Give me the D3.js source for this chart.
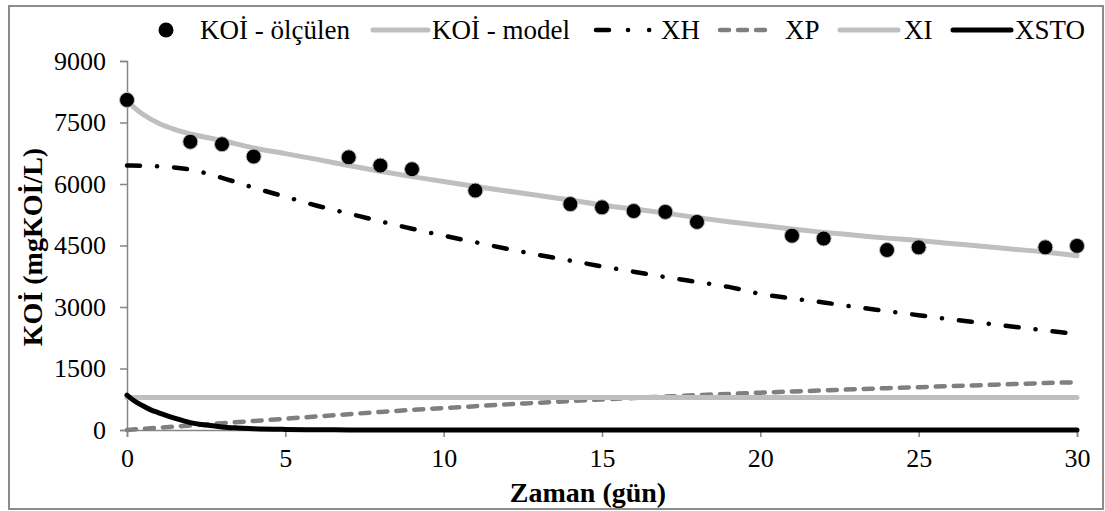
<!DOCTYPE html>
<html>
<head>
<meta charset="utf-8">
<script src="https://cdn.jsdelivr.net/npm/d3@7"></script>
</head>
<body style="margin:0">
<script>
// measured COD points (day, mg/L)
var measDays = [0, 2, 3, 4, 7, 8, 9, 11, 14, 15, 16, 17, 18, 21, 22, 24, 25, 29, 30]
var measVals = [8050, 7030, 6970, 6670, 6650, 6450, 6360, 5840, 5510, 5430, 5340, 5320, 5075, 4740, 4670, 4390, 4455, 4455, 4490]

// model curves
var modelDays = [0, 0.25, 0.5, 1, 1.5, 2, 3, 4, 5, 6, 7, 8, 9, 10, 11, 12, 13, 14, 15, 16, 17, 18, 19, 20, 21, 22, 23, 24, 25, 26, 27, 28, 29, 30]
var modelVals = [8050, 7850, 7700, 7480, 7330, 7220, 7060, 6880, 6740, 6600, 6450, 6310, 6180, 6060, 5940, 5830, 5720, 5610, 5490, 5390, 5290, 5180, 5080, 4990, 4900, 4820, 4750, 4680, 4620, 4550, 4480, 4410, 4340, 4250]

var xhDays = [0, 1, 2, 3, 4, 5, 6, 7, 8, 9, 10, 11, 12, 13, 14, 15, 16, 17, 18, 19, 20, 21, 22, 23, 24, 25, 26, 27, 28, 29, 30]
var xhVals = [6450, 6430, 6350, 6150, 5910, 5690, 5470, 5280, 5090, 4910, 4740, 4580, 4420, 4270, 4130, 3990, 3860, 3730, 3610, 3490, 3320, 3210, 3110, 3000, 2900, 2800, 2700, 2610, 2520, 2430, 2340]

var xpDays = [0, 1, 2, 3, 4, 5, 6, 7, 8, 9, 10, 11, 12, 13, 14, 15, 16, 17, 18, 19, 20, 21, 22, 23, 24, 25, 26, 27, 28, 29, 30]
var xpVals = [0, 55, 110, 165, 220, 275, 330, 385, 440, 490, 535, 580, 625, 665, 705, 745, 780, 815, 850, 880, 910, 940, 965, 995, 1020, 1045, 1070, 1095, 1120, 1145, 1165]

var xiDays = [0, 30]
var xiVals = [790, 790]

var xstoDays = [0, 0.25, 0.5, 0.75, 1, 1.5, 2, 2.5, 3, 3.5, 4, 5, 6, 7, 8, 10, 15, 20, 25, 30]
var xstoVals = [850, 700, 590, 490, 420, 290, 180, 120, 75, 50, 32, 14, 6, 2, 0, 0, 0, 0, 0, 0]

var xTicks = [0, 5, 10, 15, 20, 25, 30]
var yTicks = [0, 1500, 3000, 4500, 6000, 7500, 9000]

var FONT = "'Liberation Serif'"
var W = 1105
var H = 511
var margin = { top: 61, right: 28, bottom: 81, left: 127 }
var width = 1077 - margin.left
var height = 430 - margin.top

var svg = d3.select('body')
  .append('svg')
  .attr('width', W)
  .attr('height', H)

// outer frame
svg.append('rect')
  .attr('x', 9).attr('y', 6)
  .attr('width', 1094).attr('height', 503)
  .attr('fill', '#fff')
  .attr('stroke', '#8c8c8c')
  .attr('stroke-width', 2)

var g = svg.append('g')
  .attr('transform', 'translate(' + margin.left + ',' + margin.top + ')')

var xScale = d3.scaleLinear().domain([0, 30]).range([0, width])
var yScale = d3.scaleLinear().domain([0, 9000]).range([height, 0])

function series (days, vals) {
  return days.map(function (d, i) { return { x: d, y: vals[i] } })
}

function label (sel, size) {
  sel.attr('font-family', 'Liberation Serif')
    .style('font-family', FONT)
    .attr('font-size', size)
    .style('font-size', size + 'px')
    .attr('fill', '#000')
}

var line = d3.line()
  .x(function (d) { return xScale(d.x) })
  .y(function (d) { return yScale(d.y) })
  .curve(d3.curveMonotoneX)

var styles = {
  model: { stroke: '#bfbfbf', width: 5, dash: null },
  xh: { stroke: '#000', width: 4.5, dash: '13,17,0.1,17' },
  xp: { stroke: '#7f7f7f', width: 4.5, dash: '9,9' },
  xi: { stroke: '#bfbfbf', width: 5, dash: null },
  xsto: { stroke: '#000', width: 5, dash: null }
}

function drawLine (data, st) {
  g.append('path')
    .datum(data)
    .attr('d', line)
    .attr('fill', 'none')
    .attr('stroke', st.stroke)
    .attr('stroke-width', st.width)
    .attr('stroke-linecap', 'round')
    .attr('stroke-dasharray', st.dash)
}

// axes
var yAxis = d3.axisLeft(yScale).tickValues(yTicks).tickFormat(d3.format('d')).tickSize(7).tickPadding(14)
var xAxis = d3.axisBottom(xScale).tickValues(xTicks).tickFormat(d3.format('d')).tickSize(7).tickPadding(12)

g.append('g').attr('class', 'axis').call(yAxis)
g.append('g').attr('class', 'axis')
  .attr('transform', 'translate(0,' + height + ')')
  .call(xAxis)

g.selectAll('.axis')
  .attr('font-family', null)
  .attr('font-size', null)
g.selectAll('.axis path, .axis line')
  .attr('stroke', '#868686')
  .attr('stroke-width', 1.5)
g.selectAll('.axis text')
  .call(label, 26)

drawLine(series(modelDays, modelVals), styles.model)
drawLine(series(xhDays, xhVals), styles.xh)
drawLine(series(xpDays, xpVals), styles.xp)
drawLine(series(xiDays, xiVals), styles.xi)
drawLine(series(xstoDays, xstoVals), styles.xsto)

g.selectAll('circle.meas')
  .data(series(measDays, measVals))
  .enter().append('circle')
  .attr('class', 'meas')
  .attr('cx', function (d) { return xScale(d.x) })
  .attr('cy', function (d) { return yScale(d.y) })
  .attr('r', 7.5)
  .attr('fill', '#000')
  .attr('stroke', '#bbb')
  .attr('stroke-width', 1)

// axis titles
svg.append('text')
  .attr('x', 588).attr('y', 502)
  .attr('text-anchor', 'middle')
  .call(label, 28)
  .style('font-weight', 'bold')
  .text('Zaman (gün)')

svg.append('text')
  .attr('transform', 'translate(42,247) rotate(-90)')
  .attr('text-anchor', 'middle')
  .call(label, 28)
  .style('font-weight', 'bold')
  .text('KOİ (mgKOİ/L)')

// legend
var leg = svg.append('g')
var ly = 30
leg.append('circle').attr('cx', 166).attr('cy', ly).attr('r', 7.5).attr('fill', '#000')
var legendItems = [
  { key: 'model', x0: 373, x1: 428, tx: 432, label: 'KOİ - model' },
  { key: 'xh', x0: 596, x1: 656, tx: 661, label: 'XH' },
  { key: 'xp', x0: 720, x1: 770, tx: 785, label: 'XP' },
  { key: 'xi', x0: 840, x1: 898, tx: 904, label: 'XI' },
  { key: 'xsto', x0: 953, x1: 1011, tx: 1015, label: 'XSTO' }
]
leg.append('text').attr('x', 200).attr('y', ly + 9).call(label, 27).text('KOİ - ölçülen')
legendItems.forEach(function (it) {
  var st = styles[it.key]
  var dash = st.dash
  if (it.key === 'xh') dash = '13,19,0.1,21,0.1,100'
  leg.append('line')
    .attr('x1', it.x0).attr('x2', it.x1)
    .attr('y1', ly).attr('y2', ly)
    .attr('stroke', st.stroke)
    .attr('stroke-width', st.width)
    .attr('stroke-linecap', 'round')
    .attr('stroke-dasharray', dash)
  leg.append('text').attr('x', it.tx).attr('y', ly + 9).call(label, 27).text(it.label)
})
</script>
</body>
</html>
